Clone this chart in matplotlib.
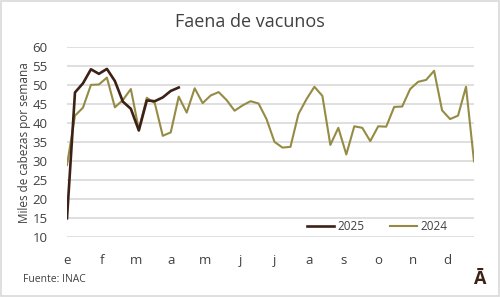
import numpy as np
import matplotlib
matplotlib.use("Agg")
import matplotlib.pyplot as plt
from matplotlib.patches import Rectangle

# === Data (miles de cabezas por semana) ===
meses = ["e", "f", "m", "a", "m", "j", "j", "a", "s", "o", "n", "d"]

faena_2024 = [29, 42, 44.1, 50.1, 50.2, 52, 44.2, 46.1, 49, 38.4,
              46.7, 45.3, 36.7, 37.6, 47, 42.8, 49.2, 45.3, 47.3, 48.2,
              46.1, 43.3, 44.7, 45.8, 45.2, 41.1, 35.1, 33.6, 33.8, 42.4,
              46.3, 49.6, 47.2, 34.3, 38.8, 31.8, 39.2, 38.8, 35.3, 39.2,
              39.1, 44.3, 44.4, 49, 50.9, 51.4, 53.8, 43.4, 41.1, 42,
              49.6, 30]

faena_2025 = [15, 48.1, 50.5, 54.2, 53, 54.3, 51.1, 45.7, 43.8, 38.1,
              46, 45.8, 46.8, 48.5, 49.4]

COLOR_2025 = "#3d2117"
COLOR_2024 = "#958b45"
GRID = "#d9d9d9"
TEXT = "#404040"

plt.rcParams['font.family'] = ['Open Sans', 'DejaVu Sans']

fig = plt.figure(figsize=(5.0, 2.97), dpi=100)
ax = fig.add_axes([0.134, 0.201, 0.814, 0.640])

semanas_24 = np.arange(len(faena_2024))
semanas_25 = np.arange(len(faena_2025))

ax.plot(semanas_25, faena_2025, color=COLOR_2025, linewidth=1.9, label="2025", zorder=3)
ax.plot(semanas_24, faena_2024, color=COLOR_2024, linewidth=1.5, label="2024", zorder=2)

ax.set_xlim(0, len(faena_2024) - 1)
ax.set_ylim(10, 60)
ax.set_yticks(np.arange(10, 61, 5))
ax.yaxis.grid(True, color=GRID, linewidth=1.2)
ax.set_axisbelow(True)
for s in ax.spines.values():
    s.set_visible(False)

pos_meses = [i * 52 / 12 for i in range(12)]
ax.set_xticks(pos_meses)
ax.set_xticklabels(meses)
ax.tick_params(axis="both", length=0, labelsize=9.5, colors=TEXT)
ax.tick_params(axis="x", pad=12)
ax.tick_params(axis="y", pad=14)

ax.set_ylabel("Miles de cabezas por semana", fontsize=8.5, color=TEXT, labelpad=1)

ax.legend(loc="lower right", bbox_to_anchor=(0.962, -0.035), ncol=2, frameon=False,
          fontsize=8.5, handlelength=2.3, columnspacing=2.2, handletextpad=0.3,
          labelcolor=TEXT)

fig.text(0.5, 0.925, "Faena de vacunos", ha="center", va="center", fontsize=13, color=TEXT)
fig.text(0.046, 0.058, "Fuente: INAC", ha="left", va="center", fontsize=7.5, color=TEXT)
fig.text(0.958, 0.062, "Ā", ha="center", va="center", fontsize=13, fontweight="bold",
         color=COLOR_2025)

fig.patches.append(Rectangle((0.001, 0.002), 0.997, 0.995, transform=fig.transFigure,
                             fill=False, edgecolor=GRID, linewidth=1.2))

fig.savefig("out.png", dpi=100)
